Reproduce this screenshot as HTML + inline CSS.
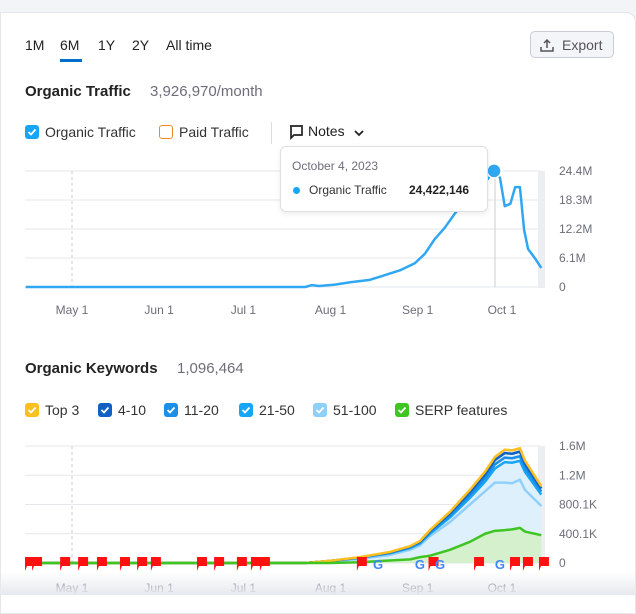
<!DOCTYPE html>
<html><head><meta charset="utf-8">
<style>
body{margin:0;width:636px;height:595px;overflow:hidden;background:#f3f4f8;font-family:"Liberation Sans",sans-serif;position:relative}
.card{position:absolute;left:0;top:12px;width:634px;height:600px;background:#fff;border:1px solid #e4e6ec;border-radius:0 10px 0 0}
.t{position:absolute;white-space:nowrap}
.cb{position:absolute;width:14px;height:14px;border-radius:3px}
</style></head><body>
<div class="card"></div>
<div class="t" style="left:25px;top:37px;font-size:14px;color:#222">1M</div>
<div class="t" style="left:60px;top:37px;font-size:14px;color:#222">6M</div>
<div style="position:absolute;left:60px;top:59px;width:22px;height:3px;background:#006dca"></div>
<div class="t" style="left:98px;top:37px;font-size:14px;color:#222">1Y</div>
<div class="t" style="left:132px;top:37px;font-size:14px;color:#222">2Y</div>
<div class="t" style="left:166px;top:37px;font-size:14px;color:#222">All time</div>
<div style="position:absolute;left:530px;top:31px;width:84px;height:27px;border:1px solid #c9ccd6;border-radius:5px;background:#f4f5f9;box-sizing:border-box">
<svg width="14" height="14" style="position:absolute;left:9px;top:6px"><path d="M7 10V2M4 5l3-3 3 3M1 9v4h12V9" fill="none" stroke="#555" stroke-width="1.5"/></svg>
<span class="t" style="left:31px;top:5px;font-size:14px;color:#555">Export</span></div>
<div class="t" style="left:25px;top:83px;font-size:15px;font-weight:bold;color:#222">Organic Traffic</div>
<div class="t" style="left:150px;top:83px;font-size:15px;color:#6c6e79">3,926,970/month</div>
<div class="cb" style="left:25px;top:125px;background:#17a6f5"><svg width="14" height="14"><path d="M3.5 7l2.5 2.5 4.5-5" fill="none" stroke="#fff" stroke-width="1.8"/></svg></div>
<div class="t" style="left:45px;top:124px;font-size:14px;color:#333">Organic Traffic</div>
<div class="cb" style="left:159px;top:125px;border:1.5px solid #f28a24;box-sizing:border-box"></div>
<div class="t" style="left:179px;top:124px;font-size:14px;color:#333">Paid Traffic</div>
<div style="position:absolute;left:271px;top:122px;width:1px;height:22px;background:#ddd"></div>
<div style="position:absolute;left:288px;top:122px;width:80px;height:20px">
<svg width="16" height="16" style="position:absolute;left:0;top:2px"><path d="M2 2h12v9H6l-3 3V2z" fill="none" stroke="#222" stroke-width="1.7"/></svg>
<span class="t" style="left:20px;top:1px;font-size:14px;color:#222">Notes</span>
<svg width="10" height="8" style="position:absolute;left:66px;top:8px"><path d="M1 1l4 4 4-4" fill="none" stroke="#222" stroke-width="1.8"/></svg></div>

<svg id="c1" width="636" height="595" style="position:absolute;left:0;top:0"></svg>

<div style="position:absolute;left:280px;top:146px;width:206px;height:64px;background:#fff;border:1px solid #dde0e6;border-radius:6px;box-shadow:0 2px 6px rgba(0,0,0,.08)">
<div class="t" style="left:11px;top:12px;font-size:12px;color:#6c6e79">October 4, 2023</div>
<div style="position:absolute;left:12px;top:40px;width:7px;height:7px;border-radius:50%;background:#17a6f5"></div>
<div class="t" style="left:28px;top:36px;font-size:12px;color:#333">Organic Traffic</div>
<div class="t" style="left:128px;top:36px;font-size:12px;font-weight:bold;color:#222">24,422,146</div></div>

<div class="t" style="left:25px;top:360px;font-size:15px;font-weight:bold;color:#222">Organic Keywords</div>
<div class="t" style="left:177px;top:360px;font-size:15px;color:#6c6e79">1,096,464</div>
<div id="leg2"></div>
<div style="position:absolute;left:0;top:572px;width:636px;height:23px;background:linear-gradient(#fff0,#e8e9ee)"></div>

<script>
// ---- traffic chart data (days from May 1) ----
const trafficDays=[-16.5,0,30,61,83,85.4,88,93.6,99,106,111.4,116.7,122,125.6,129,132.7,136.3,140,143.4,147,150.2,152.3,154,156,157.7,159.4,160.9,162.3,164.8,167];
const trafficValues=[0,0,0,0,0,0.4,0.2,0.5,1.0,1.5,2.5,3.5,5.0,7.0,10.0,12.5,15.5,18.0,20.0,22.0,24.42,23.0,17.0,17.5,21.0,21.0,12.0,8.0,6.0,4.0];
const trafficTicks=["0","6.1M","12.2M","18.3M","24.4M"];
const monthLabels=["May 1","Jun 1","Jul 1","Aug 1","Sep 1","Oct 1"];
const monthDays=[0,31,61,92,123,153];
// ---- keywords chart data (K) ----
const kwDays=[-16.5,0,83,91.8,102.5,113,120.3,123.8,127.4,134.5,141.6,147,150.5,154,156.6,159.4,161.2,167];
const kwTop3=[0,0,0,30,80,150,230,300,450,700,1000,1250,1450,1550,1540,1570,1400,1050];
const kw51=[0,0,0,22,55,110,180,240,370,560,800,980,1100,1100,1090,1140,1000,780];
const kwSerp=[0,0,0,0,10,35,50,80,100,180,290,400,440,450,460,480,430,380];
const kwTicks=["0","400.1K","800.1K","1.2M","1.6M"];
const flagDays=[-15.3,-12.8,-2.8,3.6,10.3,18.5,24.6,29.5,45.9,52,60.1,65.1,68.3,102.8,128.3,144.5,157.3,161.9,167.6];
const googleDays=[108.9,123.8,131,152.3];

const NS="http://www.w3.org/2000/svg";
const svg=document.getElementById('c1');
function el(t,a,p){const e=document.createElementNS(NS,t);for(const k in a)e.setAttribute(k,a[k]);(p||svg).appendChild(e);return e;}
const xS=d=>72+d*2.81;
function yT(v){return 287-v/24.4*116;}
function yK(v){return 563-v/1600*117;}

for(let i=0;i<5;i++){const y=287-i*29;
 const g=el('line',{x1:25,x2:541,y1:y,y2:y,stroke:'#e6e7ee'});
 const t=el('text',{x:559,y:y+4,'font-size':12,fill:'#6c6e79','font-family':'Liberation Sans'});t.textContent=trafficTicks[i];}
for(let i=0;i<5;i++){const y=563-i*29.25;
 const g=el('line',{x1:25,x2:541,y1:y,y2:y,stroke:'#e6e7ee'});
 const t=el('text',{x:559,y:y+4,'font-size':12,fill:'#6c6e79','font-family':'Liberation Sans'});t.textContent=kwTicks[i];}
el('rect',{x:538,y:171,width:7,height:117,fill:'#eceef2'});
el('rect',{x:538,y:446,width:7,height:118,fill:'#eceef2'});
el('line',{x1:72,x2:72,y1:171,y2:287,stroke:'#ccc','stroke-dasharray':'3,3'});
el('line',{x1:72,x2:72,y1:446,y2:563,stroke:'#ccc','stroke-dasharray':'3,3'});
el('line',{x1:495,x2:495,y1:171,y2:287,stroke:'#ccc'});
monthLabels.forEach((m,i)=>{[314,592].forEach(yy=>{const t=el('text',{x:xS(monthDays[i]),y:yy,'font-size':12,fill:'#6c6e79','text-anchor':'middle','font-family':'Liberation Sans'});t.textContent=m;});});

let pts=trafficDays.map((d,i)=>xS(d)+','+yT(trafficValues[i]));
const tl=el('polyline',{points:pts.join(' '),fill:'none',stroke:'#2fa7f3','stroke-width':2.5,'stroke-linejoin':'round'});

const pk=trafficValues.indexOf(Math.max(...trafficValues));
const dot=el('circle',{cx:xS(trafficDays[pk]),cy:yT(trafficValues[pk]),r:7,fill:'#2fa7f3',stroke:'#fff','stroke-width':1.5});


function line(vals,f){return kwDays.map((d,i)=>xS(d)+','+yK(vals[i]*f)).join(' ');}
const base=xS(kwDays[kwDays.length-1])+','+yK(0)+' '+xS(kwDays[0])+','+yK(0);
const a1=el('polygon',{points:line(kwTop3,1)+' '+base,fill:'#dff0fd'});
const a2=el('polygon',{points:line(kwSerp,1)+' '+base,fill:'#d4f0cc'});
[[kw51,1,'#8fd0fb','kw-51-100-line'],[kwTop3,0.89,'#17a6f5','kw-21-50-line'],[kwTop3,0.93,'#1a8fe8','kw-11-20-line'],[kwTop3,0.97,'#1260c4','kw-4-10-line'],[kwTop3,1,'#fbc01f','kw-top3-line'],[kwSerp,1,'#3fc522','kw-serp-line']].forEach(s=>{
 const l=el('polyline',{points:line(s[0],s[1]),fill:'none',stroke:s[2],'stroke-width':2.5,'stroke-linejoin':'round'});
 });
flagDays.forEach(d=>{const x=xS(d);const f=el('path',{d:`M${x-4} 571V557h10v9h-8`,fill:'#f11'});});
googleDays.forEach(d=>{const t=el('text',{x:xS(d),y:569,'font-size':13,'font-weight':'bold',fill:'#4285f4','text-anchor':'middle','font-family':'Liberation Sans'});t.textContent='G';});

const leg=[["Top 3","#fbc01f",25],["4-10","#1260c4",98],["11-20","#1a8fe8",164],["21-50","#17a6f5",239],["51-100","#8fd0fb",313],["SERP features","#3fc522",395]];
const lg=document.getElementById('leg2');
leg.forEach(l=>{const b=document.createElement('div');b.className='cb';b.style.cssText=`left:${l[2]}px;top:403px;background:${l[1]}`;b.innerHTML='<svg width="14" height="14"><path d="M3.5 7l2.5 2.5 4.5-5" fill="none" stroke="#fff" stroke-width="1.8"/></svg>';
 lg.appendChild(b);
 const t=document.createElement('div');t.className='t';t.style.cssText=`left:${l[2]+20}px;top:402px;font-size:14px;color:#333`;t.textContent=l[0];
 lg.appendChild(t);});
</script>
</body></html>
